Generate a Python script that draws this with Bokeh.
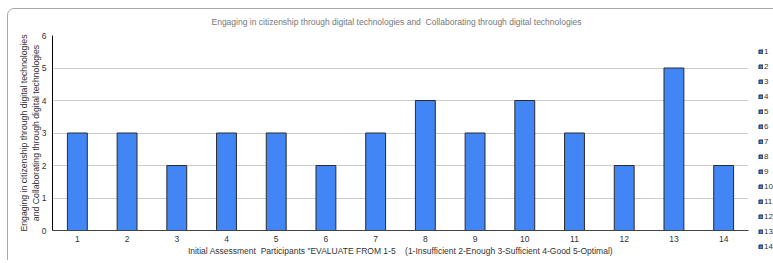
from bokeh.plotting import figure
from bokeh.models import (FactorRange, Range1d, Legend, LegendItem, ColumnDataSource,
                          SingleIntervalTicker, InlineStyleSheet)
from bokeh.embed import file_html
from bokeh.resources import INLINE

participants = ["1", "2", "3", "4", "5", "6", "7", "8", "9", "10", "11", "12", "13", "14"]
scores = [3, 3, 2, 3, 3, 2, 3, 4, 3, 4, 3, 2, 5, 2]

title_text = "Engaging in citizenship through digital technologies and\u00a0 Collaborating through digital technologies"
x_label = 'Initial Assessment\u00a0 Participants "EVALUATE FROM 1-5 \u00a0 \u00a0(1-Insufficient 2-Enough 3-Sufficient 4-Good 5-Optimal)'
y_label = "Engaging in citizenship through digital technologies\nand Collaborating through digital technologies"

FONT = "Liberation Sans"

src = ColumnDataSource(dict(x=participants, top=scores))

p = figure(frame_width=696, frame_height=195, output_backend="svg", toolbar_location=None,
           x_range=FactorRange(factors=participants, range_padding=0),
           y_range=Range1d(0, 6),
           min_border_left=52, min_border_right=25, min_border_top=35, min_border_bottom=30)

# outer rounded frame of the chart card
p.stylesheets = [InlineStyleSheet(css="""
:host { position: relative; overflow: hidden; }
:host::after { content: ""; position: absolute; left: 7px; top: 8px; right: -30px; bottom: -30px;
  border: 1px solid #a8a8a8; border-radius: 7px; pointer-events: none; }
""")]

p.title.text = title_text
p.title.align = "left"
p.title.offset = 159
p.title.text_color = "#777777"
p.title.text_font = FONT
p.title.text_font_size = "8.5px"
p.title.text_font_style = "normal"
p.title.standoff = 17

r = p.vbar(x="x", top="top", width=0.4, source=src,
           fill_color="#4285F4", line_color="#2b2b2b", line_width=1)

p.xgrid.grid_line_color = None
p.ygrid.grid_line_color = "#cccccc"
p.outline_line_color = None

p.yaxis.ticker = SingleIntervalTicker(interval=1)
for ax in (p.xaxis[0], p.yaxis[0]):
    ax.major_label_text_font = FONT
    ax.major_label_text_font_size = "8.5px"
    ax.major_label_text_color = "#333333"
    ax.axis_label_text_font = FONT
    ax.axis_label_text_font_size = "8.5px"
    ax.axis_label_text_font_style = "normal"
    ax.axis_label_text_color = "#333333"
    ax.major_tick_line_color = None
    ax.minor_tick_line_color = None
    ax.major_tick_out = 0

p.xaxis.axis_label = x_label
p.xaxis.axis_line_color = "#444444"
p.xaxis.major_label_standoff = 5
p.xaxis.axis_label_standoff = 1
p.yaxis.axis_label = y_label
p.yaxis.axis_label_text_font_size = "8.7px"
p.yaxis.axis_label_text_line_height = 1.15
p.yaxis.axis_line_color = "#000000"
p.yaxis.major_label_standoff = 2
p.yaxis.axis_label_standoff = -2

items = [LegendItem(label=participants[i], renderers=[r], index=i) for i in range(len(participants))]
legend = Legend(items=items, location=(10, -21), orientation="vertical",
                glyph_width=5, glyph_height=5, label_height=10, spacing=5,
                label_text_font=FONT, label_text_font_size="8px", label_text_color="#333333",
                label_standoff=1, padding=0, margin=0,
                background_fill_alpha=0, border_line_color=None)
p.add_layout(legend, "right")

open("out.html", "w").write(file_html(p, INLINE))
